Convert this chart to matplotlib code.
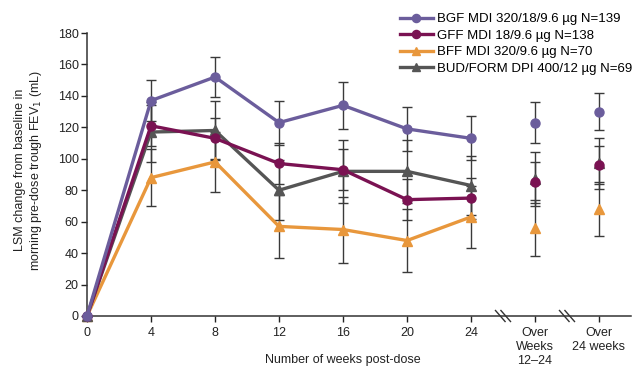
import matplotlib
matplotlib.use("Agg")
import matplotlib.pyplot as plt

plt.rcParams['font.family'] = ['Liberation Sans', 'DejaVu Sans']

weeks = [0, 4, 8, 12, 16, 20, 24]
over_pos = [28, 32]
over_labels = ['Over\nWeeks\n12\u201324', 'Over\n24 weeks']

bgf = [0, 137, 152, 123, 134, 119, 113]
bgf_over = [123, 130]
bgf_err = [0, 13, 13, 14, 15, 14, 14]
bgf_over_err = [13, 12]

gff = [0, 121, 113, 97, 93, 74, 75]
gff_over = [85, 96]
gff_err = [0, 13, 13, 13, 13, 13, 13]
gff_over_err = [13, 12]

bff = [0, 88, 98, 57, 55, 48, 63]
bff_over = [56, 68]
bff_err = [0, 18, 19, 20, 21, 20, 20]
bff_over_err = [18, 17]

bud = [0, 117, 118, 80, 92, 92, 83]
bud_over = [87, 97]
bud_err = [0, 19, 19, 19, 20, 20, 19]
bud_over_err = [17, 16]

labels = ['BGF MDI 320/18/9.6 \u00b5g N=139', 'GFF MDI 18/9.6 \u00b5g N=138',
          'BFF MDI 320/9.6 \u00b5g N=70', 'BUD/FORM DPI 400/12 \u00b5g N=69']
colors = ['#6b5d9c', '#7a1252', '#e8973c', '#555555']
markers = ['o', 'o', '^', '^']

fig = plt.figure(figsize=(6.33, 3.68), dpi=100)
ax = fig.add_axes([87/633, 52/368, 544/633, 283/368])

series = [(bgf, bgf_over, bgf_err, bgf_over_err),
          (gff, gff_over, gff_err, gff_over_err),
          (bff, bff_over, bff_err, bff_over_err),
          (bud, bud_over, bud_err, bud_over_err)]
zorders = [6, 5, 3, 4]

handles = []
for (vals, ov, err, oerr), lab, c, m, z in zip(series, labels, colors, markers, zorders):
    ax.errorbar(weeks + over_pos, vals + ov, yerr=err + oerr, fmt='none',
                ecolor='#3a3a3a', elinewidth=1, capsize=3.5, capthick=1,
                zorder=2, clip_on=False)
    h, = ax.plot(weeks, vals, color=c, lw=2.4, marker=m, ms=6.5, zorder=z,
                 clip_on=False, label=lab)
    ax.plot(over_pos, ov, ls='none', color=c, marker=m, ms=6.5, zorder=z,
            clip_on=False)
    handles.append(h)

ax.set_xlim(0, 34)
ax.set_ylim(0, 180)
ax.set_yticks(range(0, 181, 20))
ax.set_xticks(weeks + over_pos)
ax.set_xticklabels([str(w) for w in weeks] + over_labels)
ax.tick_params(labelsize=9, length=4, width=1, colors='#222222')
ax.tick_params(axis='x', pad=4)
ax.tick_params(axis='y', pad=2)
for s in ['top', 'right']:
    ax.spines[s].set_visible(False)
for s in ['left', 'bottom']:
    ax.spines[s].set_linewidth(1.1)
    ax.spines[s].set_color('#333333')

# axis break marks
for bx in [26, 30]:
    for off in [-0.17, 0.17]:
        ax.plot([bx + off - 0.3, bx + off + 0.3], [3.5, -3.5], color='#333333',
                lw=1, clip_on=False, zorder=7)

fig.text(29/633, 1 - 170/368,
         'LSM change from baseline in\nmorning pre-dose trough FEV$_1$ (mL)',
         rotation=90, ha='center', va='center', fontsize=9, color='#222222')
fig.text(343/633, 1 - 360/368, 'Number of weeks post-dose', ha='center',
         va='center', fontsize=9, color='#222222')

fig.legend(handles=handles, loc='upper left', bbox_to_anchor=(400/633, 1 - 13/368),
           frameon=False, fontsize=9.5, handlelength=2.5, handletextpad=0.3,
           labelspacing=0.32, borderpad=0, borderaxespad=0, markerscale=0.9)

fig.savefig('out.png', dpi=100)
